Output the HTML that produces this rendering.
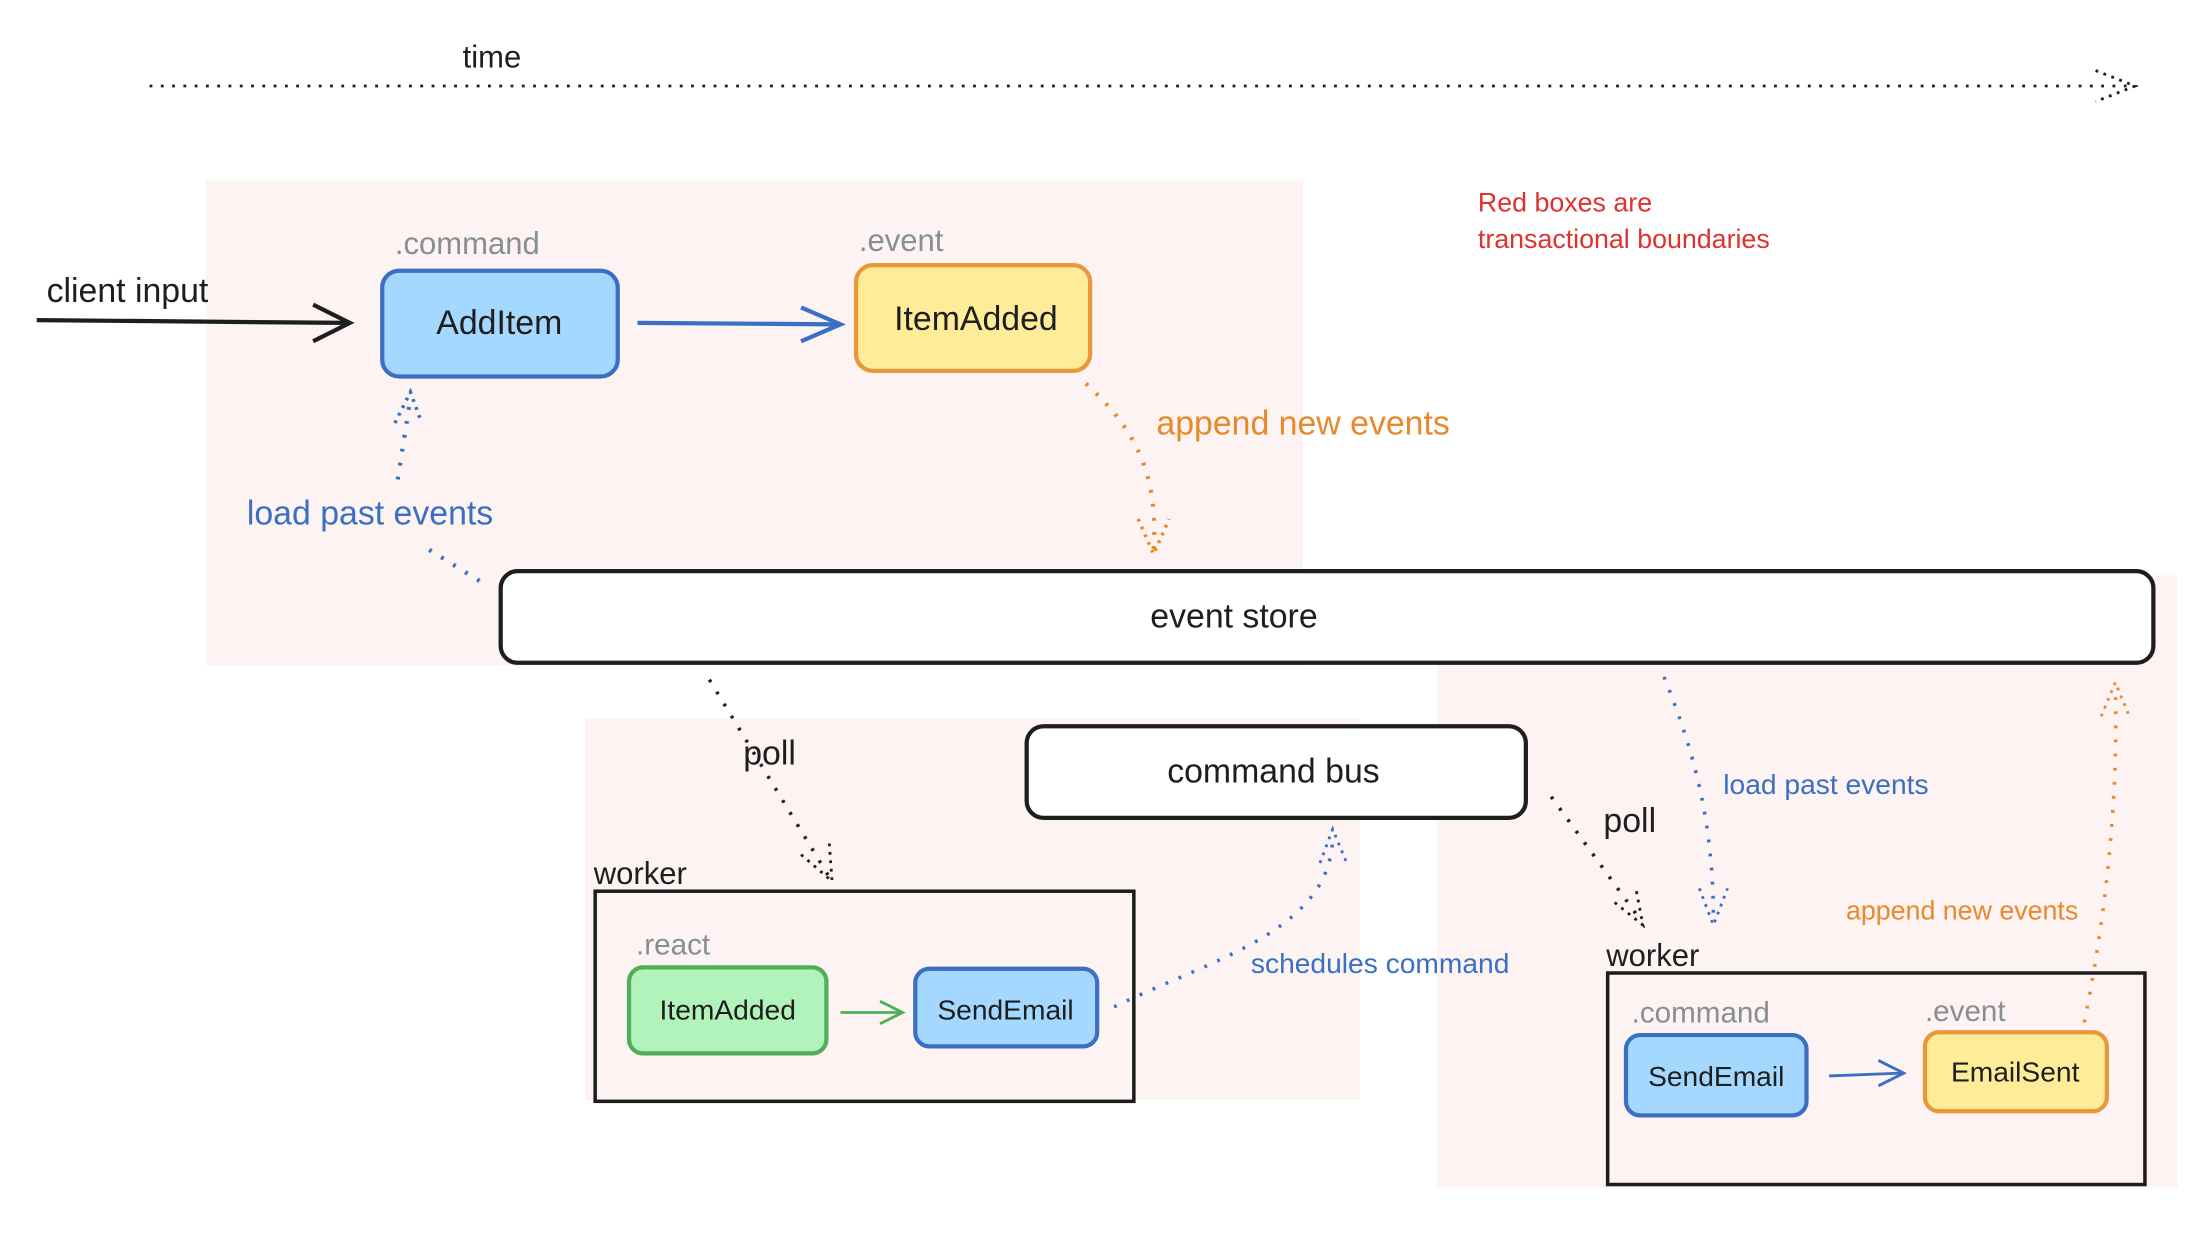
<!DOCTYPE html>
<html><head><meta charset="utf-8"><style>
html,body{margin:0;padding:0;background:#fff;}
svg{display:block}
text{font-family:"Liberation Sans",sans-serif;}
</style></head><body>
<svg width="2200" height="1236" viewBox="0 0 1560 876.5" xmlns="http://www.w3.org/2000/svg">
<defs>
<marker id="ab" markerWidth="12" markerHeight="12" refX="10" refY="6" orient="auto" markerUnits="userSpaceOnUse"><path d="M0,0 L10,6 L0,12" fill="none" stroke="#222" stroke-width="2"/></marker>
</defs>
<!-- red boundary boxes -->
<rect x="146" y="128" width="778" height="344" fill="#fcf3f2"/>
<rect x="415" y="510" width="549" height="270" fill="#fcf3f2"/>
<rect x="1019" y="408" width="525" height="434" fill="#fcf3f2"/>

<!-- time -->
<text x="328" y="48" font-size="22" fill="#1e1e1e">time</text>
<line x1="106" y1="61" x2="1512" y2="61" stroke="#1e1e1e" stroke-width="2" stroke-dasharray="2,6"/>
<path d="M1486,50 L1514,61 L1486,72" fill="none" stroke="#1e1e1e" stroke-width="2" stroke-dasharray="2,4"/>

<text x="1048" y="150" font-size="19" fill="#e03131">Red boxes are</text>
<text x="1048" y="176" font-size="19" fill="#e03131">transactional boundaries</text>

<!-- client input -->
<text x="33" y="214" font-size="24" fill="#1e1e1e">client input</text>
<line x1="26" y1="227" x2="246" y2="229" stroke="#1e1e1e" stroke-width="3"/>
<path d="M222,216 L248,229 L222,242" fill="none" stroke="#1e1e1e" stroke-width="3"/>

<text x="280" y="180" font-size="22" fill="#868e96">.command</text>
<rect x="271" y="192" width="167" height="75" rx="12" fill="#a5d8ff" stroke="#3a6fc4" stroke-width="3"/>
<text x="354" y="237" font-size="24" text-anchor="middle" fill="#1e1e1e">AddItem</text>

<line x1="452" y1="229" x2="594" y2="230" stroke="#3a6fc4" stroke-width="3"/>
<path d="M568,218 L596,230 L568,242" fill="none" stroke="#3a6fc4" stroke-width="3"/>

<text x="609" y="178" font-size="22" fill="#868e96">.event</text>
<rect x="607" y="188" width="166" height="75" rx="12" fill="#ffec99" stroke="#e8973a" stroke-width="3"/>
<text x="692" y="234" font-size="24" text-anchor="middle" fill="#1e1e1e">ItemAdded</text>

<!-- append new events (top) -->
<path d="M770,272 C800,300 822,330 818,390" fill="none" stroke="#e8892b" stroke-width="3" stroke-dasharray="2,8"/>
<path d="M807,368 L818,393 L829,368" fill="none" stroke="#e8892b" stroke-width="2.5" stroke-dasharray="2,4"/>
<text x="820" y="308" font-size="24" fill="#e8892b">append new events</text>

<!-- load past events (top) -->
<path d="M340,412 L298,386" fill="none" stroke="#3a6fc4" stroke-width="3" stroke-dasharray="2,8"/>
<path d="M282,340 L291,282" fill="none" stroke="#3a6fc4" stroke-width="3" stroke-dasharray="2,8"/>
<path d="M280,300 L291,278 L299,300" fill="none" stroke="#3a6fc4" stroke-width="2.5" stroke-dasharray="2,4"/>
<text x="175" y="372" font-size="24" fill="#3a6fc4">load past events</text>

<!-- event store -->
<rect x="355" y="405" width="1172" height="65" rx="12" fill="#fff" stroke="#1e1e1e" stroke-width="3"/>
<text x="875" y="445" font-size="24" text-anchor="middle" fill="#1e1e1e">event store</text>

<!-- poll 1 -->
<path d="M503,482 L588,622" fill="none" stroke="#1e1e1e" stroke-width="2.5" stroke-dasharray="2,8"/>
<path d="M568,606 L590,625 L588,598" fill="none" stroke="#1e1e1e" stroke-width="2" stroke-dasharray="2,4"/>
<text x="527" y="542" font-size="24" fill="#1e1e1e">poll</text>

<!-- command bus -->
<rect x="728" y="515" width="354" height="65" rx="12" fill="#fff" stroke="#1e1e1e" stroke-width="3"/>
<text x="903" y="555" font-size="24" text-anchor="middle" fill="#1e1e1e">command bus</text>

<!-- worker 1 -->
<text x="421" y="627" font-size="22" fill="#1e1e1e">worker</text>
<rect x="422" y="632" width="382" height="149" fill="none" stroke="#1e1e1e" stroke-width="2.5"/>
<text x="451" y="677" font-size="21" fill="#868e96">.react</text>
<rect x="446" y="686" width="140" height="61" rx="10" fill="#b2f2bb" stroke="#4fae57" stroke-width="3"/>
<text x="516" y="723" font-size="20" text-anchor="middle" fill="#1e1e1e">ItemAdded</text>
<line x1="596" y1="718" x2="638" y2="718" stroke="#4fae57" stroke-width="2"/>
<path d="M624,710 L640,718 L624,726" fill="none" stroke="#4fae57" stroke-width="2"/>
<rect x="649" y="687" width="129" height="55" rx="10" fill="#a5d8ff" stroke="#3a6fc4" stroke-width="3"/>
<text x="713" y="723" font-size="20" text-anchor="middle" fill="#1e1e1e">SendEmail</text>

<!-- schedules command -->
<path d="M790,714 C860,680 945,660 945,592" fill="none" stroke="#3a6fc4" stroke-width="2.5" stroke-dasharray="2,8"/>
<path d="M936,612 L945,588 L955,612" fill="none" stroke="#3a6fc4" stroke-width="2" stroke-dasharray="2,4"/>
<text x="887" y="690" font-size="20" fill="#3a6fc4">schedules command</text>

<!-- poll 2 -->
<path d="M1100,565 L1163,652" fill="none" stroke="#1e1e1e" stroke-width="2.5" stroke-dasharray="2,8"/>
<path d="M1145,640 L1165,656 L1160,630" fill="none" stroke="#1e1e1e" stroke-width="2" stroke-dasharray="2,4"/>
<text x="1137" y="590" font-size="24" fill="#1e1e1e">poll</text>

<!-- load past events 2 -->
<path d="M1180,480 C1200,530 1215,580 1215,652" fill="none" stroke="#3a6fc4" stroke-width="2.5" stroke-dasharray="2,8"/>
<path d="M1205,630 L1215,656 L1225,630" fill="none" stroke="#3a6fc4" stroke-width="2" stroke-dasharray="2,4"/>
<text x="1222" y="563" font-size="20" fill="#3a6fc4">load past events</text>

<!-- append new events 2 -->
<path d="M1478,725 C1495,640 1502,560 1500,488" fill="none" stroke="#e8892b" stroke-width="2.5" stroke-dasharray="2,8"/>
<path d="M1490,508 L1500,484 L1510,508" fill="none" stroke="#e8892b" stroke-width="2" stroke-dasharray="2,4"/>
<text x="1309" y="652" font-size="19" fill="#e8892b">append new events</text>

<!-- worker 2 -->
<text x="1139" y="685" font-size="22" fill="#1e1e1e">worker</text>
<rect x="1140" y="690" width="381" height="150" fill="none" stroke="#1e1e1e" stroke-width="2.5"/>
<text x="1157" y="725" font-size="21" fill="#868e96">.command</text>
<text x="1365" y="724" font-size="21" fill="#868e96">.event</text>
<rect x="1153" y="734" width="128" height="57" rx="10" fill="#a5d8ff" stroke="#3a6fc4" stroke-width="3"/>
<text x="1217" y="770" font-size="20" text-anchor="middle" fill="#1e1e1e">SendEmail</text>
<line x1="1297" y1="763" x2="1348" y2="761" stroke="#3a6fc4" stroke-width="2"/>
<path d="M1332,752 L1350,761 L1332,770" fill="none" stroke="#3a6fc4" stroke-width="2"/>
<rect x="1365" y="732" width="129" height="56" rx="10" fill="#ffec99" stroke="#e8973a" stroke-width="3"/>
<text x="1429" y="767" font-size="20" text-anchor="middle" fill="#1e1e1e">EmailSent</text>
</svg>
</body></html>
